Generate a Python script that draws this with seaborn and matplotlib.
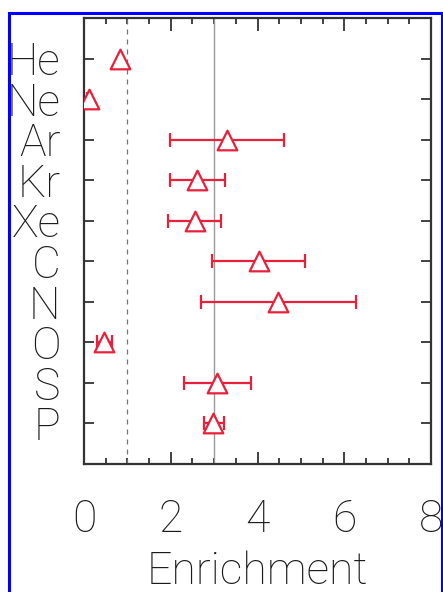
import matplotlib
matplotlib.use("Agg")
import matplotlib.pyplot as plt
import seaborn as sns
import pandas as pd
from matplotlib.patches import Rectangle
from matplotlib.ticker import MultipleLocator

sns.set_theme(style="white")
plt.rcParams["font.family"] = ["Roboto", "DejaVu Sans"]

# Element enrichment relative to solar, with lower/upper bounds
elements = ["He", "Ne", "Ar", "Kr", "Xe", "C", "N", "O", "S", "P"]
enrichment = [0.83, 0.12, 3.30, 2.61, 2.55, 4.03, 4.47, 0.46, 3.07, 2.98]
lower = [0.80, 0.08, 1.99, 1.99, 1.94, 2.95, 2.70, 0.29, 2.30, 2.76]
upper = [0.86, 0.16, 4.62, 3.25, 3.16, 5.10, 6.27, 0.64, 3.85, 3.23]

df = pd.DataFrame({"element": elements, "enrichment": enrichment,
                   "lower": lower, "upper": upper})
df["pos"] = range(len(df))

red = "#e8203a"
fig = plt.figure(figsize=(4.43, 5.92), dpi=100)
ax = fig.add_axes([84 / 443, 1 - 464 / 592, (431 - 84) / 443, (464 - 18) / 592])

ax.axvline(3, color="#9a9a9a", lw=1.0, zorder=1)
ax.axvline(1, color="#777777", lw=0.9, ls=(0, (4, 4)), zorder=1)

ax.errorbar(df["enrichment"], df["pos"],
            xerr=[df["enrichment"] - df["lower"], df["upper"] - df["enrichment"]],
            fmt="none", ecolor=red, elinewidth=1.6, capsize=5, capthick=1.6, zorder=2)
sns.scatterplot(data=df, x="enrichment", y="pos", ax=ax, marker="^", s=200,
                facecolor="white", edgecolor=red, linewidth=1.6, zorder=3, legend=False)

ax.set_xlim(0, 8)
ax.set_ylim(10, -1)
ax.xaxis.set_major_locator(MultipleLocator(2))
ax.xaxis.set_minor_locator(MultipleLocator(0.5))
ax.set_yticks(df["pos"])
ax.set_yticklabels(elements)
fs = 32
ax.tick_params(axis="x", which="major", direction="in", length=9, width=1.3,
               top=True, bottom=True, color="#333333", labelsize=fs, pad=25)
ax.tick_params(axis="x", which="minor", direction="in", length=4, width=1.3,
               top=True, bottom=True, color="#333333")
ax.tick_params(axis="y", which="major", direction="in", length=7, width=1.3,
               left=True, right=True, color="#333333", labelsize=fs, pad=17)
for lab in ax.get_xticklabels() + ax.get_yticklabels():
    lab.set_fontweight("light")
    lab.set_color("#1a1a1a")
ax.set_xlabel("Enrichment", fontsize=fs, fontweight="light", color="#1a1a1a", labelpad=7)
ax.set_ylabel("")
for sp in ax.spines.values():
    sp.set_color("#333333")
    sp.set_linewidth(1.6)

fig.patches.append(Rectangle((9 / 443, -0.05), (441.5 - 9) / 443, 1.05 - 13 / 592,
                             transform=fig.transFigure, fill=False,
                             edgecolor="#0000ff", lw=2.2, zorder=10))

fig.savefig("out.png", dpi=100)
